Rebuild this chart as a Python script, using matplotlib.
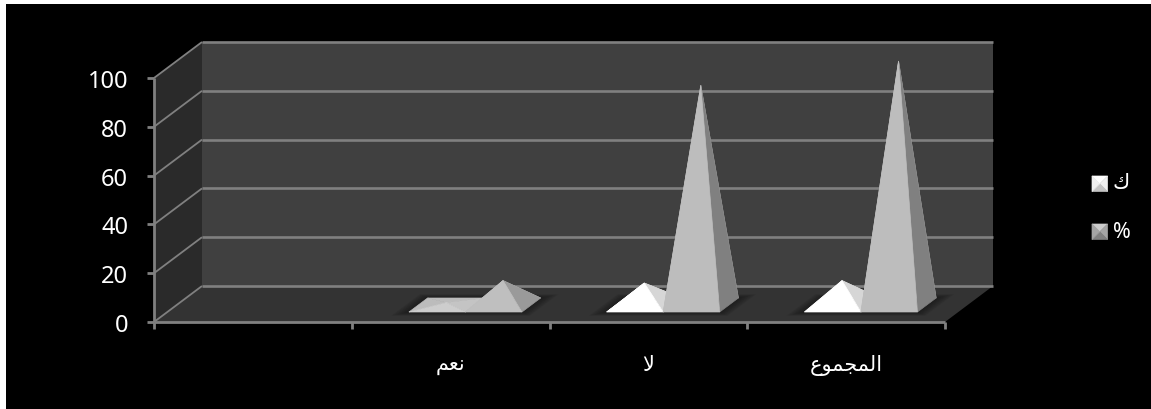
import matplotlib
matplotlib.use("Agg")
import matplotlib.pyplot as plt
from matplotlib.patches import Polygon, Rectangle

# ---- data ----
categories = ["", "نعم", "لا", "المجموع"]
series_names = ["ك", "%"]
count_values = [0, 1, 9, 10]
percent_values = [0, 10, 90, 100]
y_ticks = [0, 20, 40, 60, 80, 100]

W, H = 1151, 410
# plot box of the front plane, in pixels from the top-left corner
LEFT, RIGHT, TOP, BOTTOM = 154, 945, 79, 323
DEPTH_PX = (48, -36)

fig = plt.figure(figsize=(W / 100, H / 100), dpi=100, facecolor="white")
fig.add_artist(Rectangle((6 / W, 0), (W - 6) / W, (H - 5) / H,
                         transform=fig.transFigure, fc="black", ec="none", zorder=-5))

ax = fig.add_axes([LEFT / W, 1 - BOTTOM / H, (RIGHT - LEFT) / W, (BOTTOM - TOP) / H])
ax.set_xlim(0, len(categories))
ax.set_ylim(0, 100)
ax.patch.set_visible(False)
ax.set_axis_off()

# one unit of depth expressed in data units
dx_unit = DEPTH_PX[0] / ((RIGHT - LEFT) / len(categories))
dy_unit = -DEPTH_PX[1] / ((BOTTOM - TOP) / 100)


def proj(x, y, z=0.0):
    return (x + z * dx_unit, y + z * dy_unit)


def poly(points, color, zorder=1, alpha=None, seal=False):
    # seal adds a hairline edge so neighbouring faces meet without a seam
    ax.add_patch(Polygon(points, closed=True, fc=color, ec=color if seal else "none",
                         lw=0.5 if seal else 0, alpha=alpha, zorder=zorder, clip_on=False))


def line(a, b, color="#808080", lw=1.5, zorder=2):
    ax.plot([a[0], b[0]], [a[1], b[1]], color=color, lw=lw, zorder=zorder,
            clip_on=False, solid_capstyle="butt")


n = len(categories)
y_max = y_ticks[-1]

# walls and floor
poly([proj(0, 0, 1), proj(n, 0, 1), proj(n, y_max, 1), proj(0, y_max, 1)], "#404040", 1)
poly([proj(0, 0, 0), proj(0, 0, 1), proj(0, y_max, 1), proj(0, y_max, 0)], "#2a2a2a", 1)
poly([proj(0, 0, 0), proj(n, 0, 0), proj(n, 0, 1), proj(0, 0, 1)], "#333333", 1)

# gridlines, running across the side wall and the back wall
for t in y_ticks:
    line(proj(0, t, 0), proj(0, t, 1), lw=1.3)
    line(proj(0, t, 1), proj(n, t, 1), lw=1.9)

# axes and tick marks
line(proj(0, 0), proj(n, 0), lw=2.0, zorder=6)
line(proj(0, 0), proj(0, y_max), lw=2.0, zorder=6)
px_x = len(categories) / (RIGHT - LEFT)
px_y = 100 / (BOTTOM - TOP)
for t in y_ticks:
    line((-7 * px_x, t), (0, t), lw=2.0, zorder=6)
for i in range(n + 1):
    line((i, 0), (i, -7 * px_y), lw=2.0, zorder=6)

tick_font = {"family": ["Noto Sans", "DejaVu Sans"], "size": 17, "color": "white"}
for t in y_ticks:
    ax.annotate(str(t), (0, t), xytext=(-26, 0), textcoords="offset pixels",
                ha="right", va="center_baseline", annotation_clip=False, **tick_font)


# presentation forms for the letters used here, since the text engine
# lays glyphs out from left to right without joining them
FORMS = {"نعم": "\uFEE2\uFECC\uFEE7",
         "لا": "\uFEFB",
         "المجموع": "\uFEC9\uFEEE\uFEE4\uFEA0\uFEE4\uFEDF\uFE8D",
         "ك": "\uFED9",
         "%": "%",
         "": ""}

for i, cat in enumerate(categories):
    ax.annotate(FORMS[cat], (i + 0.5, 0), xytext=(0, -42), textcoords="offset pixels",
                ha="center", va="center", annotation_clip=False, color="white",
                family=["DejaVu Sans"], fontsize=15)

# pyramids: footprint spans this depth range on the floor
Z0, Z1 = 10 / 36, 24 / 36
BAR_W = 56.5 * px_x
MID_Z = (Z0 + Z1) / 2
GROUP_SHIFT = 1.5 * px_x

# face colours: left, back, right, front
count_faces = {"left": "#e6e6e6", "back": "#dcdcdc", "right": "#d6d6d6", "front": "#ffffff"}
percent_faces = {"left": "#bdbdbd", "back": "#bdbdbd", "right": "#808080", "front": "#bdbdbd"}
low_count_faces = {"left": "#bcbcbc", "back": "#bcbcbc", "right": "#c4c4c4", "front": "#cdcdcd"}
low_percent_faces = {"left": "#bdbdbd", "back": "#bdbdbd", "right": "#9a9a9a", "front": "#bfbfbf"}


def shadow(x0, x1):
    # soft dark halo on the floor around a group's footprint
    steps = 8
    for k in range(steps):
        g = (steps - k) * 1.6 * px_x
        zg = (steps - k) * 0.026
        poly([proj(x0 - g, 0, Z0 - zg * 0.5), proj(x1 + g, 0, Z0 - zg * 0.5),
              proj(x1 + g, 0, Z1 + zg * 0.5), proj(x0 - g, 0, Z1 + zg * 0.5)],
             "#151515", 3, alpha=0.11)


def pyramid(x0, x1, value, faces, z):
    cx = (x0 + x1) / 2
    apex = proj(cx, value, MID_Z)
    fl, fr = proj(x0, 0, Z0), proj(x1, 0, Z0)
    bl, br = proj(x0, 0, Z1), proj(x1, 0, Z1)
    poly([bl, br, apex], faces["back"], z, seal=True)
    poly([fl, bl, apex], faces["left"], z, seal=True)
    poly([fr, br, apex], faces["right"], z + 0.1, seal=True)
    poly([fl, fr, apex], faces["front"], z + 0.2, seal=True)


for i in range(n):
    if count_values[i] == 0 and percent_values[i] == 0:
        continue
    c = i + 0.5 + GROUP_SHIFT
    shadow(c - BAR_W, c + BAR_W)
    low = percent_values[i] <= 10
    pyramid(c - BAR_W, c, count_values[i], low_count_faces if low else count_faces, 4)
    pyramid(c, c + BAR_W, percent_values[i], low_percent_faces if low else percent_faces, 5)


# legend keys are small pyramids seen from above
def legend_key(x, y, size, top, side, bottom):
    to_fig = lambda px, py: (px / W, 1 - py / H)
    m = (x + size / 2, y + size / 2)
    c = [(x, y), (x + size, y), (x + size, y + size), (x, y + size)]
    cols = [top, side, bottom, side]
    for j in range(4):
        fig.add_artist(Polygon([to_fig(*c[j]), to_fig(*c[(j + 1) % 4]), to_fig(*m)], closed=True,
                               transform=fig.transFigure, fc=cols[j], ec=cols[j], lw=0.5))


legend_key(1092, 177, 15.5, "#ffffff", "#f0f0f0", "#c4c4c4")
legend_key(1092, 225, 15.5, "#cccccc", "#a4a4a4", "#808080")
fig.text(1130 / W, 1 - 183 / H, FORMS[series_names[0]], color="white", fontsize=15,
         ha="right", va="center", family=["DejaVu Sans"])
fig.text(1131 / W, 1 - 233 / H, series_names[1], color="white", fontsize=15.5,
         ha="right", va="center", family=["Noto Sans", "DejaVu Sans"])

fig.savefig("out.png", dpi=100, facecolor="white")
